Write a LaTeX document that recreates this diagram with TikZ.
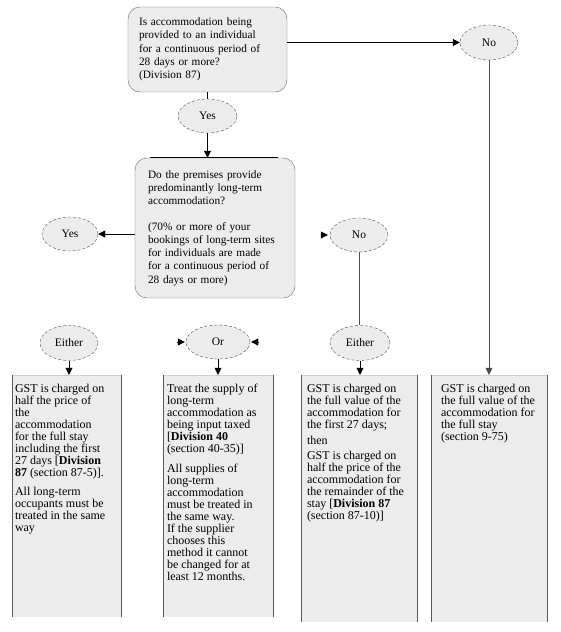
\documentclass[tikz,border=0pt]{standalone}
\usepackage{fontspec}
\setmainfont{Liberation Serif}
\usetikzlibrary{shapes.geometric,arrows.meta}

\begin{document}
\begin{tikzpicture}[x=1pt,y=-1pt,
		question/.style={draw=black!60, fill=gray!15, rounded corners=12pt, align=left, inner xsep=11pt, inner ysep=0pt, font=\fontsize{11.3}{13.3}\selectfont},
		answer/.style={ellipse, draw=black!70, dash pattern=on 3pt off 2pt, fill=gray!15, inner sep=0pt, font=\fontsize{11.5}{14}\selectfont},
		outcome/.style={fill=gray!15, minimum height=242pt, inner sep=0pt},
		outtext/.style={anchor=north west, align=left, inner sep=0pt, font=\fontsize{12}{12}\selectfont},
		arr/.style={-{Triangle[length=7pt,width=7pt]}},
		side/.style={draw=black!65, line width=0.8pt}]
		
		\useasboundingbox (0,0) rectangle (560,632);
		
		% questions
		\node[question, text width=137pt, minimum height=85pt] (stay) at (207.5,49.5) {Is accommodation being\\ provided to an individual\\ for a continuous period of\\ 28 days or more?\\ (Division 87)};
		\node[question, text width=134pt, inner xsep=13pt, minimum height=140pt] (longterm) at (215,228) {Do the premises provide\\ predominantly long-term\\ accommodation?\\[12pt] (70\% or more of your\\ bookings of long-term sites\\ for individuals are made\\ for a continuous period of\\ 28 days or more)};
		\draw[line width=1.3pt] ([xshift=15pt]longterm.north west) -- ([xshift=-17pt]longterm.north east);
		
		% answers
		\node[answer, minimum width=58pt, minimum height=35pt] (no1) at (489,42.5) {No};
		\node[answer, minimum width=59pt, minimum height=34pt] (yes1) at (207.5,116) {Yes};
		\node[answer, minimum width=56pt, minimum height=34pt] (yes2) at (70,234) {Yes};
		\node[answer, minimum width=58pt, minimum height=34pt] (no2) at (359,235) {No};
		\node[answer, minimum width=58pt, minimum height=35pt] (either1) at (69,343) {Either};
		\node[answer, minimum width=64pt, minimum height=34pt] (orChoice) at (218,342) {Or};
		\node[answer, minimum width=60pt, minimum height=35pt] (either2) at (360,343) {Either};
		
		% outcomes
		\node[outcome, minimum width=108pt] (halfBox) at (67,496) {};
		\node[outcome, minimum width=109pt] (inputBox) at (218.5,496) {};
		\node[outcome, minimum width=115pt, minimum height=247pt] (splitBox) at (359.5,498.5) {};
		\node[outcome, minimum width=115pt, minimum height=247pt] (fullBox) at (489.5,498.5) {};
		\foreach \b in {halfBox,inputBox,splitBox,fullBox} {
			\draw[gray!35] (\b.north west) -- (\b.north east);
			\draw[side] (\b.north west) -- (\b.south west);
			\draw[side] (\b.north east) -- (\b.south east);
		}
		
		\node[outtext] (halfText) at ([shift={(2,9)}]halfBox.north west) {GST is charged on\\ half the price of\\ the\\ accommodation\\ for the full stay\\ including the first\\ 27 days [\textbf{Division}\\ \textbf{87} (section 87-5)].\\[7pt] All long-term\\ occupants must be\\ treated in the same\\ way};
		\node[outtext] (inputText) at ([shift={(3,9)}]inputBox.north west) {Treat the supply of\\ long-term\\ accommodation as\\ being input taxed\\ {[}\textbf{Division 40}\\ (section 40-35)]\\[8pt] All supplies of\\ long-term\\ accommodation\\ must be treated in\\ the same way.\\ If the supplier\\ chooses this\\ method it cannot\\ be changed for at\\ least 12 months.};
		\node[outtext] (splitText) at ([shift={(5,9)}]splitBox.north west) {GST is charged on\\ the full value of the\\ accommodation for\\ the first 27 days;\\[4pt] then\\[3pt] GST is charged on\\ half the price of the\\ accommodation for\\ the remainder of the\\ stay [\textbf{Division 87}\\ (section 87-10)]};
		\node[outtext] (fullText) at ([shift={(9,9)}]fullBox.north west) {GST is charged on\\ the full value of the\\ accommodation for\\ the full stay\\ (section 9-75)};
		
		% connectors
		\draw[arr] (stay.east |- no1) -- (no1.west);
		\draw (stay.south) -- (yes1.north);
		\draw[arr] (yes1.south) -- (yes1.south |- longterm.north);
		\draw[arr] (longterm.west |- yes2) -- (yes2.east);
		\draw[black!70] (no2.south) -- (no2.south |- either2.north);
		\coordinate (noStub) at ([xshift=-9pt]no2.west);
		\draw[arr] (noStub) -- ([xshift=-2pt]no2.west);
		\coordinate (orStubL) at ([xshift=-9pt]orChoice.west);
		\draw[arr] (orStubL) -- ([xshift=-1pt]orChoice.west);
		\coordinate (orStubR) at ([xshift=9pt]orChoice.east);
		\draw[arr] (orStubR) -- ([xshift=1pt]orChoice.east);
		
		\draw[arr] (either1.south) -- (either1.south |- halfBox.north);
		\draw[arr] (orChoice.south) -- (orChoice.south |- inputBox.north);
		\draw[arr] (either2.south) -- (either2.south |- splitBox.north);
		\draw[arr, black!70] (no1.south) -- (no1.south |- fullBox.north);
	\end{tikzpicture}
\end{document}
